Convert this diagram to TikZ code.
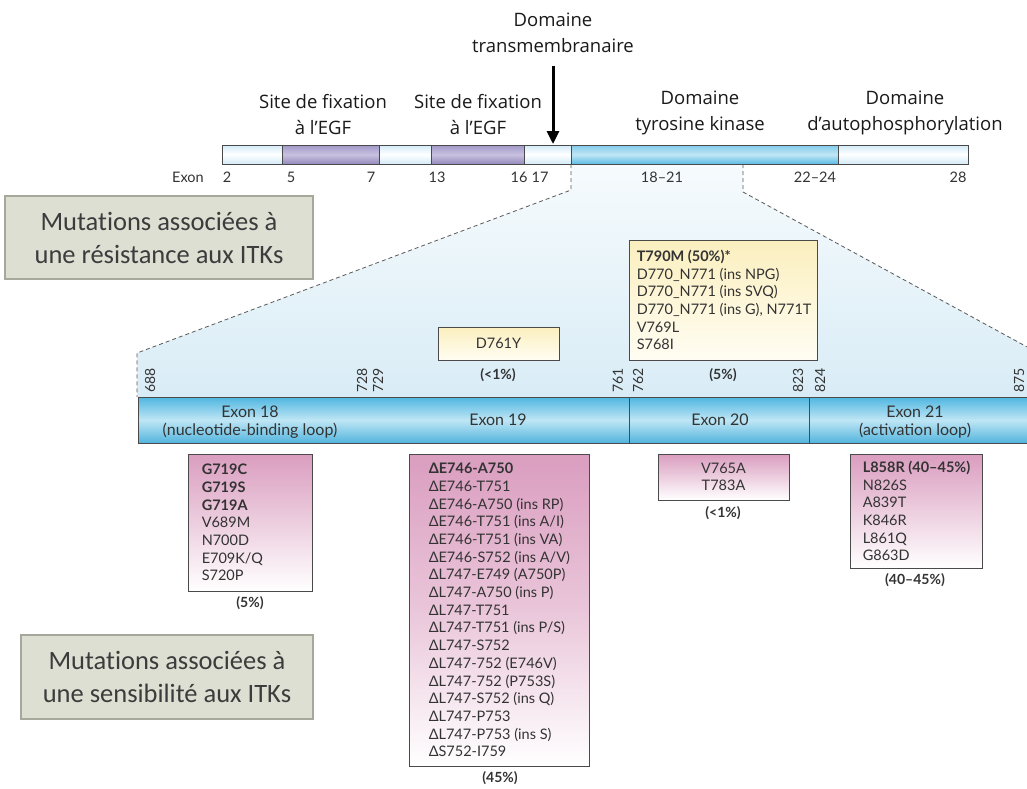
\documentclass[tikz,border=0pt]{standalone}
\usepackage{fontspec}
\setmainfont{Lato}
\newfontfamily\opensans{Open Sans}
\newfontfamily\carl[Ligatures=NoCommon]{Carlito}
\newfontfamily\lato{Lato}
\usetikzlibrary{arrows.meta}
\definecolor{txt}{HTML}{1A1A1A}
\definecolor{mtxt}{HTML}{333333}
\definecolor{lightA}{HTML}{D3EBF7}
\definecolor{purpT}{HTML}{A198C9}
\definecolor{purpM}{HTML}{C8C1DF}
\definecolor{purpB}{HTML}{958BBE}
\definecolor{blueT}{HTML}{7FCBEB}
\definecolor{blueM}{HTML}{C2E6F5}
\definecolor{blueB}{HTML}{5BBCE5}
\definecolor{lowT}{HTML}{4FB6E0}
\definecolor{lowM}{HTML}{BFE6F5}
\definecolor{lowB}{HTML}{52B4DE}
\definecolor{funT}{HTML}{F6FBFD}
\definecolor{funB}{HTML}{D9ECF6}
\definecolor{greyF}{HTML}{DDDFD3}
\definecolor{greyD}{HTML}{A6A89C}
\definecolor{greyT}{HTML}{3C3C3C}
\definecolor{pinkT}{HTML}{DA9DBF}
\definecolor{pinkM}{HTML}{EAC6DA}
\definecolor{pinkB}{HTML}{FFFFFF}
\definecolor{yelT}{HTML}{FBEFBE}
\definecolor{yelB}{HTML}{FFFDF3}
\definecolor{edge}{HTML}{4A4A4A}
\tikzset{
  toplbl/.style={font=\opensans\fontsize{18.5}{26}\selectfont, align=center, text=txt, inner sep=0pt},
  exnum/.style={font=\lato\fontsize{14.5}{16}\selectfont, text=mtxt, inner sep=0pt},
  posnum/.style={font=\lato\fontsize{14}{16}\selectfont, text=mtxt, rotate=90, anchor=west, inner sep=0pt},
  barlbl/.style={font=\lato\fontsize{16}{18}\selectfont, align=center, text=mtxt, inner sep=0pt},
  boxtxt/.style={font=\lato\fontsize{14.5}{17.7}\selectfont, text=mtxt, align=left, anchor=west, inner sep=0pt},
  boxctr/.style={font=\lato\fontsize{14.5}{17.7}\selectfont, text=mtxt, align=center, inner sep=0pt},
  pct/.style={font=\lato\bfseries\fontsize{14}{16}\selectfont, text=mtxt, inner sep=0pt},
  greybox/.style={draw=greyD, line width=1.2pt, fill=greyF, font=\carl\fontsize{26.5}{33}\selectfont, text=greyT, align=center, inner sep=0pt},
  pinkbox/.style={draw=edge, line width=0.9pt, top color=pinkT, bottom color=pinkB, inner sep=0pt},
  pinkbox3/.style={draw=edge, line width=0.9pt, top color=pinkT, bottom color=pinkB, middle color=pinkM, inner sep=0pt},
  yelbox/.style={draw=edge, line width=0.9pt, top color=yelT, bottom color=yelB, inner sep=0pt},
  lightseg/.style={top color=lightA, bottom color=lightA, middle color=white},
  purpseg/.style={top color=purpT, bottom color=purpB, middle color=purpM},
  blueseg/.style={top color=blueT, bottom color=blueB, middle color=blueM},
  lowseg/.style={top color=lowT, bottom color=lowB, middle color=lowM},
  barline/.style={draw=edge, line width=0.9pt},
  dashln/.style={draw=black!65, line width=0.8pt, dash pattern=on 4pt off 3pt},
  bigarrow/.style={draw=black, line width=3pt, -{Triangle[width=12pt,length=13pt]}}
}
\begin{document}
\begin{tikzpicture}[x=1pt,y=-1pt]
\useasboundingbox (0,0) rectangle (1027,788);
\clip (0,0) rectangle (1027,788);
\fill[white] (0,0) rectangle (1027,788);

% funnel
\path[top color=funT, bottom color=funB] (571,164) -- (571,190) -- (137,353) -- (137,397) -- (1040,397) -- (1040,354) -- (743,192) -- (743,164) -- cycle;
\draw[dashln] (571,164) -- (571,190) -- (137,353) -- (137,397);
\draw[dashln] (743,164) -- (743,192) -- (1040,354);

% top bar
\path[lightseg] (222,145) rectangle (282,164);
\path[purpseg] (282,145) rectangle (379,164);
\path[lightseg] (379,145) rectangle (431,164);
\path[purpseg] (431,145) rectangle (524,164);
\path[lightseg] (524,145) rectangle (571,164);
\path[blueseg] (571,145) rectangle (838,164);
\path[lightseg] (838,145) rectangle (968,164);
\draw[barline] (222,145) rectangle (968,164);
\foreach \xx in {282,379,431,524,571,838} \draw[barline] (\xx,145) -- (\xx,164);

% top labels
\node[toplbl] (tm) at (553,33) {Domaine\\transmembranaire};
\node[toplbl] (sf1) at (323,115) {Site de fixation\\à l’EGF};
\node[toplbl] (sf2) at (478,115) {Site de fixation\\à l’EGF};
\node[toplbl] (tk) at (700,113) {Domaine\\tyrosine kinase};
\node[toplbl] (ap) at (905,113) {Domaine\\d’autophosphorylation};
\coordinate (arrtop) at (553,66);
\coordinate (arrtip) at (553,144);
\draw[bigarrow] (arrtop) -- (arrtip);

% exon numbers
\node[exnum] (exw) at (188,177) {Exon};
\node[exnum] (e2) at (227,177) {2};
\node[exnum] (e5) at (291,177) {5};
\node[exnum] (e7) at (371,177) {7};
\node[exnum] (e13) at (437,177) {13};
\node[exnum] (e16) at (519,177) {16};
\node[exnum] (e17) at (540,177) {17};
\node[exnum] (e1821) at (662,177) {18–21};
\node[exnum] (e2224) at (815,177) {22–24};
\node[exnum] (e28) at (958,177) {28};

% grey boxes
\node[greybox, minimum width=308pt, minimum height=83pt] (res) at (159,237.5) {Mutations associées à\\une résistance aux ITKs};
\node[greybox, minimum width=292pt, minimum height=84pt] (sens) at (167,677) {Mutations associées à\\une sensibilité aux ITKs};

% lower bar
\path[lowseg] (138,397) rectangle (1040,443);
\draw[barline] (1040,397) -- (138,397) -- (138,443) -- (1040,443);
\draw[barline] (629,397) -- (629,443);
\draw[barline] (809,397) -- (809,443);
\node[barlbl] (x18) at (250,422) {Exon 18\\(nucleotide-binding loop)};
\node[barlbl] (x19) at (498,420) {Exon 19};
\node[barlbl] (x20) at (720,420) {Exon 20};
\node[barlbl] (x21) at (915,422) {Exon 21\\(activation loop)};

% position numbers
\node[posnum] (p688) at (150,393) {688};
\node[posnum] (p728) at (362,393) {728};
\node[posnum] (p729) at (378,393) {729};
\node[posnum] (p761) at (618,393) {761};
\node[posnum] (p762) at (638,393) {762};
\node[posnum] (p823) at (798,393) {823};
\node[posnum] (p824) at (820,393) {824};
\node[posnum] (p875) at (1019,393) {875};

% yellow boxes
\node[yelbox, minimum width=121pt, minimum height=33pt] (bD) at (498.5,343.5) {};
\node[boxctr] (tD) at (bD.center) {D761Y};
\node[pct] (pD) at (498,375) {(<1\%)};
\node[yelbox, minimum width=188pt, minimum height=120pt] (bT) at (723,300) {};
\node[boxtxt] (tT) at ([xshift=8pt]bT.west) {\textbf{T790M (50\%)*}\\D770\_N771 (ins NPG)\\D770\_N771 (ins SVQ)\\D770\_N771 (ins G), N771T\\V769L\\S768I};
\node[pct] (pT) at (723,375) {(5\%)};

% pink boxes
\node[pinkbox, minimum width=124pt, minimum height=137pt] (bG) at (250,522.5) {};
\node[boxtxt] (tG) at ([xshift=14pt]bG.west) {\textbf{G719C}\\\textbf{G719S}\\\textbf{G719A}\\V689M\\N700D\\E709K/Q\\S720P};
\node[pct] (pG) at (250,603) {(5\%)};

\node[pinkbox3, minimum width=180pt, minimum height=312pt] (bE) at (499,610) {};
\node[boxtxt] (tE) at ([xshift=20pt]bE.west) {\textbf{ΔE746-A750}\\ΔE746-T751\\ΔE746-A750 (ins RP)\\ΔE746-T751 (ins A/I)\\ΔE746-T751 (ins VA)\\ΔE746-S752 (ins A/V)\\ΔL747-E749 (A750P)\\ΔL747-A750 (ins P)\\ΔL747-T751\\ΔL747-T751 (ins P/S)\\ΔL747-S752\\ΔL747-752 (E746V)\\ΔL747-752 (P753S)\\ΔL747-S752 (ins Q)\\ΔL747-P753\\ΔL747-P753 (ins S)\\ΔS752-I759};
\node[pct] (pE) at (500,778) {(45\%)};

\node[pinkbox, minimum width=131pt, minimum height=46pt] (bV) at (723.5,477) {};
\node[boxctr] (tV) at (bV.center) {V765A\\T783A};
\node[pct] (pV) at (723,513) {(<1\%)};

\node[pinkbox, minimum width=132pt, minimum height=114pt] (bL) at (916,511) {};
\node[boxtxt] (tL) at ([xshift=13pt]bL.west) {\textbf{L858R (40–45\%)}\\N826S\\A839T\\K846R\\L861Q\\G863D};
\node[pct] (pL) at (915,580) {(40–45\%)};
\end{tikzpicture}
\end{document}
